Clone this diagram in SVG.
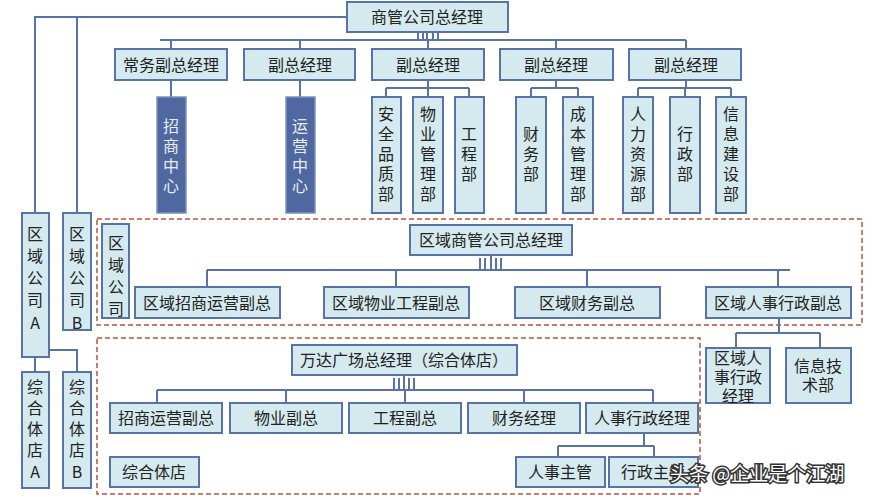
<svg xmlns="http://www.w3.org/2000/svg" width="894" height="500" viewBox="0 0 894 500">
<style>
.b{fill:#d5eaee;stroke:#5873a8;stroke-width:2}
.d{fill:#4f68a0;stroke:#7d93bf;stroke-width:1.5}
.t{font-family:"Noto Sans CJK SC","Noto Sans",sans-serif;font-size:16px;fill:#222;text-anchor:middle}
.w{fill:#e8ecf6}
.l{fill:none;stroke:#5873a8;stroke-width:2}
.ds{fill:none;stroke:#b5553d;stroke-width:1.5;stroke-dasharray:5,3}
</style>
<rect width="894" height="500" fill="#fff"/>
<g id="frames"><rect class="ds" x="97" y="219" width="765" height="106"/><rect class="ds" x="97" y="338" width="603" height="156"/></g>
<g id="connectors">
<path class="l" d="M347 17H35V213M77 17V213M427 32V40M160 40H686M171 40V49M300 40V49M428 40V49M556 40V49M686 40V49"/>
<path class="l" d="M418 32v8M423 32v8M433 32v8M438 32v8" stroke-width="1"/>
<path class="l" d="M171 80V97M300 80V97M428 80V88M386 88H469M386 88V97M428 88V97M469 88V97M556 80V88M531 88H578M531 88V97M578 88V97M686 80V88M638 88H731M638 88V97M685 88V97M731 88V97"/>
<path class="l" d="M35 357V372M35 350H77V372"/>
<path class="l" d="M491 255V270M207 270H790M207 270V287M396 270V287M587 270V287M778 270V287M480 258v12M485 258v12M496 258v12M501 258v12"/>
<path class="l" d="M779 318V333M736 333H820M736 333V348M820 333V348"/>
<path class="l" d="M404 375V390M157 390H653M157 390V403M286 390V403M405 390V403M524 390V403M653 390V403M394 378v12M399 378v12M409 378v12M414 378v12"/>
<path class="l" d="M644 433V446M558 446H654M558 446V457M654 446V457"/>
</g>
<g id="n0"><rect class="b" x="347" y="2" width="161" height="30"/><text class="t" x="427" y="23">商管公司总经理</text></g>
<g id="n1"><rect class="b" x="115" y="49" width="112" height="31"/><text class="t" x="171" y="71">常务副总经理</text></g>
<g id="n2"><rect class="b" x="244" y="49" width="111" height="31"/><text class="t" x="300" y="71">副总经理</text></g>
<g id="n3"><rect class="b" x="372" y="49" width="112" height="31"/><text class="t" x="428" y="71">副总经理</text></g>
<g id="n4"><rect class="b" x="500" y="49" width="113" height="31"/><text class="t" x="556" y="71">副总经理</text></g>
<g id="n5"><rect class="b" x="629" y="49" width="112" height="31"/><text class="t" x="686" y="71">副总经理</text></g>
<g id="n6"><rect class="d" x="157" y="97" width="29" height="116"/><text class="t w" x="171"><tspan x="171" y="132">招</tspan><tspan x="171" y="152">商</tspan><tspan x="171" y="172">中</tspan><tspan x="171" y="192">心</tspan></text></g>
<g id="n7"><rect class="d" x="286" y="97" width="29" height="116"/><text class="t w" x="300"><tspan x="300" y="132">运</tspan><tspan x="300" y="152">营</tspan><tspan x="300" y="172">中</tspan><tspan x="300" y="192">心</tspan></text></g>
<g id="n8"><rect class="b" x="372" y="97" width="29" height="116"/><text class="t"><tspan x="386" y="120">安</tspan><tspan x="386" y="140">全</tspan><tspan x="386" y="160">品</tspan><tspan x="386" y="180">质</tspan><tspan x="386" y="200">部</tspan></text></g>
<g id="n9"><rect class="b" x="413" y="97" width="30" height="116"/><text class="t"><tspan x="428" y="120">物</tspan><tspan x="428" y="140">业</tspan><tspan x="428" y="160">管</tspan><tspan x="428" y="180">理</tspan><tspan x="428" y="200">部</tspan></text></g>
<g id="n10"><rect class="b" x="455" y="97" width="29" height="116"/><text class="t"><tspan x="469" y="140">工</tspan><tspan x="469" y="160">程</tspan><tspan x="469" y="180">部</tspan></text></g>
<g id="n11"><rect class="b" x="516" y="97" width="30" height="116"/><text class="t"><tspan x="531" y="140">财</tspan><tspan x="531" y="160">务</tspan><tspan x="531" y="180">部</tspan></text></g>
<g id="n12"><rect class="b" x="563" y="97" width="30" height="116"/><text class="t"><tspan x="578" y="120">成</tspan><tspan x="578" y="140">本</tspan><tspan x="578" y="160">管</tspan><tspan x="578" y="180">理</tspan><tspan x="578" y="200">部</tspan></text></g>
<g id="n13"><rect class="b" x="623" y="97" width="30" height="116"/><text class="t"><tspan x="638" y="120">人</tspan><tspan x="638" y="140">力</tspan><tspan x="638" y="160">资</tspan><tspan x="638" y="180">源</tspan><tspan x="638" y="200">部</tspan></text></g>
<g id="n14"><rect class="b" x="670" y="97" width="30" height="116"/><text class="t"><tspan x="685" y="140">行</tspan><tspan x="685" y="160">政</tspan><tspan x="685" y="180">部</tspan></text></g>
<g id="n15"><rect class="b" x="716" y="97" width="30" height="116"/><text class="t"><tspan x="731" y="120">信</tspan><tspan x="731" y="140">息</tspan><tspan x="731" y="160">建</tspan><tspan x="731" y="180">设</tspan><tspan x="731" y="200">部</tspan></text></g>
<g id="n16"><rect class="b" x="22" y="213" width="27" height="144"/><text class="t"><tspan x="35" y="240">区</tspan><tspan x="35" y="262">域</tspan><tspan x="35" y="284">公</tspan><tspan x="35" y="306">司</tspan><tspan x="35" y="329">A</tspan></text></g>
<g id="n17"><rect class="b" x="63" y="213" width="28" height="117"/><text class="t"><tspan x="77" y="240">区</tspan><tspan x="77" y="262">域</tspan><tspan x="77" y="284">公</tspan><tspan x="77" y="306">司</tspan><tspan x="77" y="329">B</tspan></text></g>
<g id="n18"><rect class="b" x="102" y="224" width="27" height="94"/><text class="t"><tspan x="116" y="249">区</tspan><tspan x="116" y="271">域</tspan><tspan x="116" y="293">公</tspan><tspan x="116" y="315">司</tspan></text></g>
<g id="n19"><rect class="b" x="410" y="225" width="162" height="30"/><text class="t" x="491" y="246">区域商管公司总经理</text></g>
<g id="n20"><rect class="b" x="135" y="287" width="145" height="31"/><text class="t" x="207" y="309">区域招商运营副总</text></g>
<g id="n21"><rect class="b" x="324" y="287" width="145" height="31"/><text class="t" x="396" y="309">区域物业工程副总</text></g>
<g id="n22"><rect class="b" x="515" y="287" width="145" height="31"/><text class="t" x="587" y="309">区域财务副总</text></g>
<g id="n23"><rect class="b" x="706" y="287" width="145" height="31"/><text class="t" x="778" y="309">区域人事行政副总</text></g>
<g id="n24"><rect class="b" x="706" y="348" width="64" height="55"/><text class="t"><tspan x="738" y="364">区域人</tspan><tspan x="738" y="383">事行政</tspan><tspan x="738" y="402">经理</tspan></text></g>
<g id="n25"><rect class="b" x="786" y="348" width="65" height="55"/><text class="t"><tspan x="818" y="372">信息技</tspan><tspan x="818" y="391">术部</tspan></text></g>
<g id="n26"><rect class="b" x="22" y="372" width="27" height="116"/><text class="t"><tspan x="35" y="393">综</tspan><tspan x="35" y="414">合</tspan><tspan x="35" y="435">体</tspan><tspan x="35" y="456">店</tspan><tspan x="35" y="478">A</tspan></text></g>
<g id="n27"><rect class="b" x="63" y="372" width="28" height="116"/><text class="t"><tspan x="77" y="393">综</tspan><tspan x="77" y="414">合</tspan><tspan x="77" y="435">体</tspan><tspan x="77" y="456">店</tspan><tspan x="77" y="478">B</tspan></text></g>
<g id="n28"><rect class="b" x="292" y="345" width="225" height="30"/><text class="t" x="404" y="366">万达广场总经理（综合体店）</text></g>
<g id="n29"><rect class="b" x="110" y="403" width="112" height="30"/><text class="t" x="166" y="424">招商运营副总</text></g>
<g id="n30"><rect class="b" x="230" y="403" width="112" height="30"/><text class="t" x="286" y="424">物业副总</text></g>
<g id="n31"><rect class="b" x="349" y="403" width="112" height="30"/><text class="t" x="405" y="424">工程副总</text></g>
<g id="n32"><rect class="b" x="468" y="403" width="112" height="30"/><text class="t" x="524" y="424">财务经理</text></g>
<g id="n33"><rect class="b" x="586" y="403" width="112" height="30"/><text class="t" x="642" y="424">人事行政经理</text></g>
<g id="n34"><rect class="b" x="110" y="457" width="89" height="30"/><text class="t" x="154" y="478">综合体店</text></g>
<g id="n35"><rect class="b" x="516" y="457" width="89" height="30"/><text class="t" x="560" y="478">人事主管</text></g>
<g id="n36"><rect class="b" x="609" y="457" width="89" height="30"/><text class="t" x="653" y="478">行政主管</text></g>
<text x="670" y="481" style="font-family:'Noto Sans CJK SC',sans-serif;font-size:19px;fill:#fff;stroke:#333;stroke-width:3;paint-order:stroke">头条 @企业是个江湖</text>
</svg>
